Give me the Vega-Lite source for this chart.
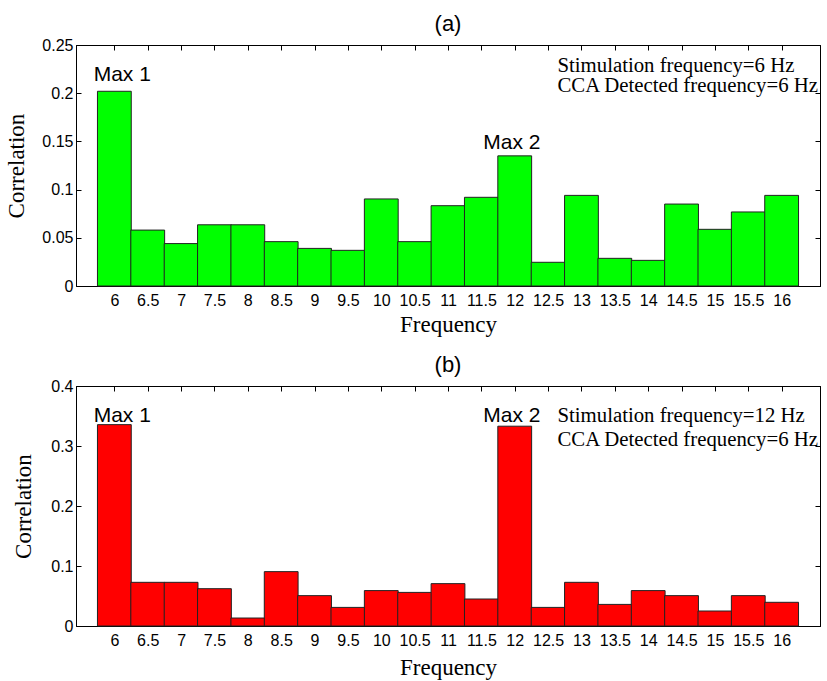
{
  "$schema": "https://vega.github.io/schema/vega-lite/v6.json",
  "padding": {"left": 5, "top": 12, "right": 1, "bottom": 0},
  "spacing": 16,
  "config": {
    "view": {"stroke": "black", "strokeWidth": 1},
    "axis": {
      "domainColor": "black", "tickColor": "black", "labelColor": "black", "titleColor": "black",
      "labelFont": "Liberation Sans", "labelFontSize": 16, "labelFlush": false, "labelOverlap": false,
      "titleFont": "Liberation Serif", "titleFontSize": 23, "titleFontWeight": "normal",
      "grid": false, "tickSize": -5, "labelPadding": 8
    },
    "axisBottom": {"labelPadding": 11},
    "title": {"font": "Liberation Sans", "fontSize": 22, "fontWeight": "normal", "color": "black", "offset": 1}
  },
  "datasets": {
    "a": [
      {"freq": 6, "corr": 0.202}, {"freq": 6.5, "corr": 0.058}, {"freq": 7, "corr": 0.044},
      {"freq": 7.5, "corr": 0.0635}, {"freq": 8, "corr": 0.0635}, {"freq": 8.5, "corr": 0.046},
      {"freq": 9, "corr": 0.039}, {"freq": 9.5, "corr": 0.037}, {"freq": 10, "corr": 0.0903},
      {"freq": 10.5, "corr": 0.046}, {"freq": 11, "corr": 0.0833}, {"freq": 11.5, "corr": 0.092},
      {"freq": 12, "corr": 0.135}, {"freq": 12.5, "corr": 0.0246}, {"freq": 13, "corr": 0.094},
      {"freq": 13.5, "corr": 0.0287}, {"freq": 14, "corr": 0.0266}, {"freq": 14.5, "corr": 0.085},
      {"freq": 15, "corr": 0.0588}, {"freq": 15.5, "corr": 0.0768}, {"freq": 16, "corr": 0.094}
    ],
    "b": [
      {"freq": 6, "corr": 0.3356}, {"freq": 6.5, "corr": 0.0728}, {"freq": 7, "corr": 0.0728},
      {"freq": 7.5, "corr": 0.0622}, {"freq": 8, "corr": 0.0133}, {"freq": 8.5, "corr": 0.0906},
      {"freq": 9, "corr": 0.0506}, {"freq": 9.5, "corr": 0.031}, {"freq": 10, "corr": 0.059},
      {"freq": 10.5, "corr": 0.056}, {"freq": 11, "corr": 0.0706}, {"freq": 11.5, "corr": 0.045},
      {"freq": 12, "corr": 0.333}, {"freq": 12.5, "corr": 0.031}, {"freq": 13, "corr": 0.0728},
      {"freq": 13.5, "corr": 0.036}, {"freq": 14, "corr": 0.059}, {"freq": 14.5, "corr": 0.0506},
      {"freq": 15, "corr": 0.025}, {"freq": 15.5, "corr": 0.0506}, {"freq": 16, "corr": 0.0395}
    ],
    "maxA": [
      {"freq": 5.69, "corr": 0.2127, "label": "Max 1"},
      {"freq": 11.53, "corr": 0.142, "label": "Max 2"}
    ],
    "maxB": [
      {"freq": 5.69, "corr": 0.34, "label": "Max 1"},
      {"freq": 11.53, "corr": 0.34, "label": "Max 2"}
    ],
    "noteA": [
      {"freq": 12.64, "corr": 0.2223, "label": "Stimulation frequency=6 Hz"},
      {"freq": 12.64, "corr": 0.201, "label": "CCA Detected frequency=6 Hz"}
    ],
    "noteB": [
      {"freq": 12.64, "corr": 0.3405, "label": "Stimulation frequency=12 Hz"},
      {"freq": 12.64, "corr": 0.30, "label": "CCA Detected frequency=6 Hz"}
    ]
  },
  "vconcat": [
    {
      "title": {"text": "(a)"},
      "width": 744,
      "height": 241,
      "layer": [
        {
          "data": {"name": "a"},
          "mark": {"type": "bar", "color": "#00ff00", "stroke": "#222222", "strokeWidth": 1, "size": 33.8},
          "encoding": {
            "x": {"field": "freq", "type": "quantitative",
                  "scale": {"domain": [5.5, 16.5], "nice": false, "zero": false},
                  "axis": {"orient": "bottom", "values": [6,6.5,7,7.5,8,8.5,9,9.5,10,10.5,11,11.5,12,12.5,13,13.5,14,14.5,15,15.5,16], "format": "~g", "title": "Frequency", "titlePadding": 5}},
            "y": {"field": "corr", "type": "quantitative",
                  "scale": {"domain": [0, 0.25], "nice": false},
                  "axis": {"orient": "left", "values": [0, 0.05, 0.1, 0.15, 0.2, 0.25], "format": "~g", "title": "Correlation", "titlePadding": 13}}
          }
        },
        {
          "data": {"name": "maxA"},
          "mark": {"type": "text", "align": "left", "baseline": "alphabetic", "font": "Liberation Sans", "fontSize": 21, "color": "black"},
          "encoding": {
            "x": {"field": "freq", "type": "quantitative", "axis": {"orient": "top", "values": [6,6.5,7,7.5,8,8.5,9,9.5,10,10.5,11,11.5,12,12.5,13,13.5,14,14.5,15,15.5,16], "labels": false, "title": null}},
            "y": {"field": "corr", "type": "quantitative", "axis": {"orient": "right", "values": [0, 0.05, 0.1, 0.15, 0.2, 0.25], "labels": false, "title": null}},
            "text": {"field": "label"}
          }
        },
        {
          "data": {"name": "noteA"},
          "mark": {"type": "text", "align": "left", "baseline": "alphabetic", "font": "Liberation Serif", "fontSize": 20.8, "color": "black"},
          "encoding": {
            "x": {"field": "freq", "type": "quantitative", "axis": null},
            "y": {"field": "corr", "type": "quantitative", "axis": null},
            "text": {"field": "label"}
          }
        }
      ]
    },
    {
      "title": {"text": "(b)"},
      "width": 744,
      "height": 240,
      "layer": [
        {
          "data": {"name": "b"},
          "mark": {"type": "bar", "color": "#ff0000", "stroke": "#222222", "strokeWidth": 1, "size": 33.8},
          "encoding": {
            "x": {"field": "freq", "type": "quantitative",
                  "scale": {"domain": [5.5, 16.5], "nice": false, "zero": false},
                  "axis": {"orient": "bottom", "values": [6,6.5,7,7.5,8,8.5,9,9.5,10,10.5,11,11.5,12,12.5,13,13.5,14,14.5,15,15.5,16], "format": "~g", "title": "Frequency", "titlePadding": 8}},
            "y": {"field": "corr", "type": "quantitative",
                  "scale": {"domain": [0, 0.4], "nice": false},
                  "axis": {"orient": "left", "values": [0, 0.1, 0.2, 0.3, 0.4], "format": "~g", "title": "Correlation", "titlePadding": 15}}
          }
        },
        {
          "data": {"name": "maxB"},
          "mark": {"type": "text", "align": "left", "baseline": "alphabetic", "font": "Liberation Sans", "fontSize": 21, "color": "black"},
          "encoding": {
            "x": {"field": "freq", "type": "quantitative", "axis": {"orient": "top", "values": [6,6.5,7,7.5,8,8.5,9,9.5,10,10.5,11,11.5,12,12.5,13,13.5,14,14.5,15,15.5,16], "labels": false, "title": null}},
            "y": {"field": "corr", "type": "quantitative", "axis": {"orient": "right", "values": [0, 0.1, 0.2, 0.3, 0.4], "labels": false, "title": null}},
            "text": {"field": "label"}
          }
        },
        {
          "data": {"name": "noteB"},
          "mark": {"type": "text", "align": "left", "baseline": "alphabetic", "font": "Liberation Serif", "fontSize": 20.8, "color": "black"},
          "encoding": {
            "x": {"field": "freq", "type": "quantitative", "axis": null},
            "y": {"field": "corr", "type": "quantitative", "axis": null},
            "text": {"field": "label"}
          }
        }
      ]
    }
  ]
}
